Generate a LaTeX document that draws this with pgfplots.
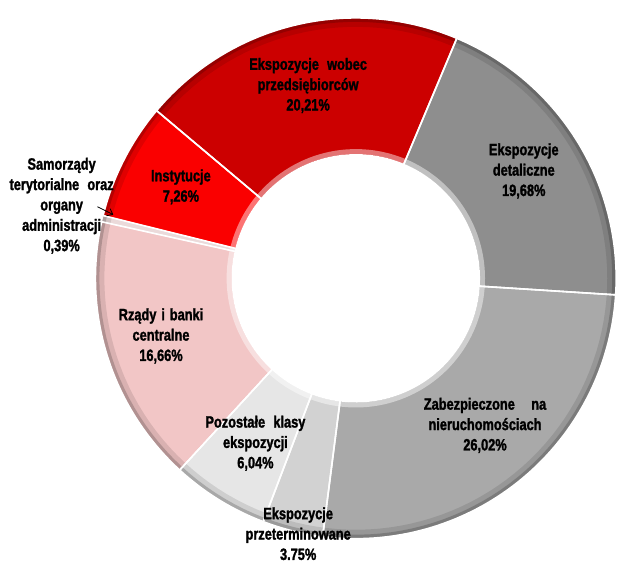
\documentclass[border=0pt]{standalone}
\usepackage{pgfplots}
\pgfplotsset{compat=1.18}
\usetikzlibrary{arrows.meta}
\usepackage{fontspec}
\setmainfont{Liberation Sans}[FakeStretch=0.78, BoldFeatures={FakeBold=1.5}]
\definecolor{cPrz}{HTML}{CC0000}
\definecolor{cDet}{HTML}{8E8E8E}
\definecolor{cZab}{HTML}{A9A9A9}
\definecolor{cPter}{HTML}{D2D2D2}
\definecolor{cPoz}{HTML}{E6E6E6}
\definecolor{cRz}{HTML}{F2C6C6}
\definecolor{cSam}{HTML}{EBDADA}
\definecolor{cIns}{HTML}{FA0000}
\newcommand\lbl{\bfseries\fontsize{16.5}{20.5}\selectfont}
\begin{document}
\begin{tikzpicture}
% data (percent shares), clockwise from the top-right boundary
\def\vDet{19.68}\def\vZab{26.02}\def\vPter{3.75}\def\vPoz{6.04}
\def\vRz{16.66}\def\vSam{0.39}\def\vIns{7.26}\def\vPrz{20.21}
\pgfmathsetmacro\aS{67.2}
\pgfmathsetmacro\aA{\aS-3.6*\vDet}
\pgfmathsetmacro\aB{\aA-3.6*\vZab}
\pgfmathsetmacro\aC{\aB-3.6*\vPter}
\pgfmathsetmacro\aD{\aC-3.6*\vPoz}
\pgfmathsetmacro\aE{\aD-3.6*\vRz}
\pgfmathsetmacro\aF{\aE-3.6*\vSam}
\pgfmathsetmacro\aG{\aF-3.6*\vIns}
\pgfmathsetmacro\aH{\aG-3.6*\vPrz}
\def\cx{358}\def\cy{282}\def\R{262}\def\r{125}
\begin{axis}[x=1pt,y=1pt,xmin=0,xmax=617,ymin=0,ymax=562,hide axis,clip=false,
  every axis plot/.append style={samples=60, variable=\t, line join=round}]
\addplot[draw=none,fill=none] coordinates {(0,0) (617,562)};
% sectors
\addplot[fill=cDet, draw=none, domain=\aA:\aS] ({\cx+\R*cos(\t)},{\cy+\R*sin(\t)}) -- (axis cs:\cx,\cy) -- cycle;
\addplot[fill=cZab, draw=none, domain=\aB:\aA] ({\cx+\R*cos(\t)},{\cy+\R*sin(\t)}) -- (axis cs:\cx,\cy) -- cycle;
\addplot[fill=cPter, draw=none, domain=\aC:\aB, samples=10] ({\cx+\R*cos(\t)},{\cy+\R*sin(\t)}) -- (axis cs:\cx,\cy) -- cycle;
\addplot[fill=cPoz, draw=none, domain=\aD:\aC, samples=15] ({\cx+\R*cos(\t)},{\cy+\R*sin(\t)}) -- (axis cs:\cx,\cy) -- cycle;
\addplot[fill=cRz, draw=none, domain=\aE:\aD] ({\cx+\R*cos(\t)},{\cy+\R*sin(\t)}) -- (axis cs:\cx,\cy) -- cycle;
\addplot[fill=cSam, draw=none, domain=\aF:\aE, samples=3] ({\cx+\R*cos(\t)},{\cy+\R*sin(\t)}) -- (axis cs:\cx,\cy) -- cycle;
\addplot[fill=cIns, draw=none, domain=\aG:\aF, samples=20] ({\cx+\R*cos(\t)},{\cy+\R*sin(\t)}) -- (axis cs:\cx,\cy) -- cycle;
\addplot[fill=cPrz, draw=none, domain=\aH:\aG] ({\cx+\R*cos(\t)},{\cy+\R*sin(\t)}) -- (axis cs:\cx,\cy) -- cycle;
% bevel: darker outer rim, light inner rim
\addplot[draw=black, opacity=0.10, line width=9pt, fill=none, domain=0:360, samples=150] ({\cx+(\R-4.5)*cos(\t)},{\cy+(\R-4.5)*sin(\t)});
\addplot[draw=black, opacity=0.18, line width=4pt, fill=none, domain=0:360, samples=150] ({\cx+(\R-2)*cos(\t)},{\cy+(\R-2)*sin(\t)});
\addplot[draw=white, opacity=0.45, line width=5pt, fill=none, domain=0:360, samples=150] ({\cx+(\r+2.5)*cos(\t)},{\cy+(\r+2.5)*sin(\t)});
% white separators
\addplot[draw=white, line width=1.6pt, fill=none, domain=\aA:\aS] ({\cx+\R*cos(\t)},{\cy+\R*sin(\t)}) -- (axis cs:\cx,\cy) -- cycle;
\addplot[draw=white, line width=1.6pt, fill=none, domain=\aB:\aA] ({\cx+\R*cos(\t)},{\cy+\R*sin(\t)}) -- (axis cs:\cx,\cy) -- cycle;
\addplot[draw=white, line width=1.6pt, fill=none, domain=\aC:\aB, samples=10] ({\cx+\R*cos(\t)},{\cy+\R*sin(\t)}) -- (axis cs:\cx,\cy) -- cycle;
\addplot[draw=white, line width=1.6pt, fill=none, domain=\aD:\aC, samples=15] ({\cx+\R*cos(\t)},{\cy+\R*sin(\t)}) -- (axis cs:\cx,\cy) -- cycle;
\addplot[draw=white, line width=1.6pt, fill=none, domain=\aE:\aD] ({\cx+\R*cos(\t)},{\cy+\R*sin(\t)}) -- (axis cs:\cx,\cy) -- cycle;
\addplot[draw=white, line width=0.8pt, fill=none, domain=\aF:\aE, samples=3] ({\cx+\R*cos(\t)},{\cy+\R*sin(\t)}) -- (axis cs:\cx,\cy) -- cycle;
\addplot[draw=white, line width=1.6pt, fill=none, domain=\aG:\aF, samples=20] ({\cx+\R*cos(\t)},{\cy+\R*sin(\t)}) -- (axis cs:\cx,\cy) -- cycle;
\addplot[draw=white, line width=1.6pt, fill=none, domain=\aH:\aG] ({\cx+\R*cos(\t)},{\cy+\R*sin(\t)}) -- (axis cs:\cx,\cy) -- cycle;
% hole
\addplot[fill=white, draw=none, domain=0:360, samples=150] ({\cx+\r*cos(\t)},{\cy+\r*sin(\t)}) -- cycle;
% labels
\node[align=center, font=\lbl] at (axis cs:310,476) {Ekspozycje\hspace{0.5em}wobec\\przedsiębiorców\\20,21\%};
\node[align=center, font=\lbl] at (axis cs:527,390) {Ekspozycje\\detaliczne\\19,68\%};
\node[align=center, font=\lbl] at (axis cs:488,134) {Zabezpieczone\hspace{1em}na\\nieruchomościach\\26,02\%};
\node[align=center, font=\lbl] at (axis cs:300,25) {Ekspozycje\\przeterminowane\\3.75\%};
\node[align=center, font=\lbl] at (axis cs:257,116) {Pozostałe\hspace{0.5em}klasy\\ekspozycji\\6,04\%};
\node[align=center, font=\lbl] at (axis cs:162,224) {Rządy\hspace{0.3em}i\hspace{0.3em}banki\\centralne\\16,66\%};
\node[align=center, font=\lbl] at (axis cs:62,355) {Samorządy\\terytorialne\hspace{0.5em}oraz\\organy\\administracji\\0,39\%};
\node[align=center, font=\lbl] at (axis cs:182,374) {Instytucje\\7,26\%};
\draw[-{Straight Barb[length=5pt,width=8pt]}, line width=0.8pt] (axis cs:98,354) -- (axis cs:114,346);
\end{axis}
\end{tikzpicture}
\end{document}
